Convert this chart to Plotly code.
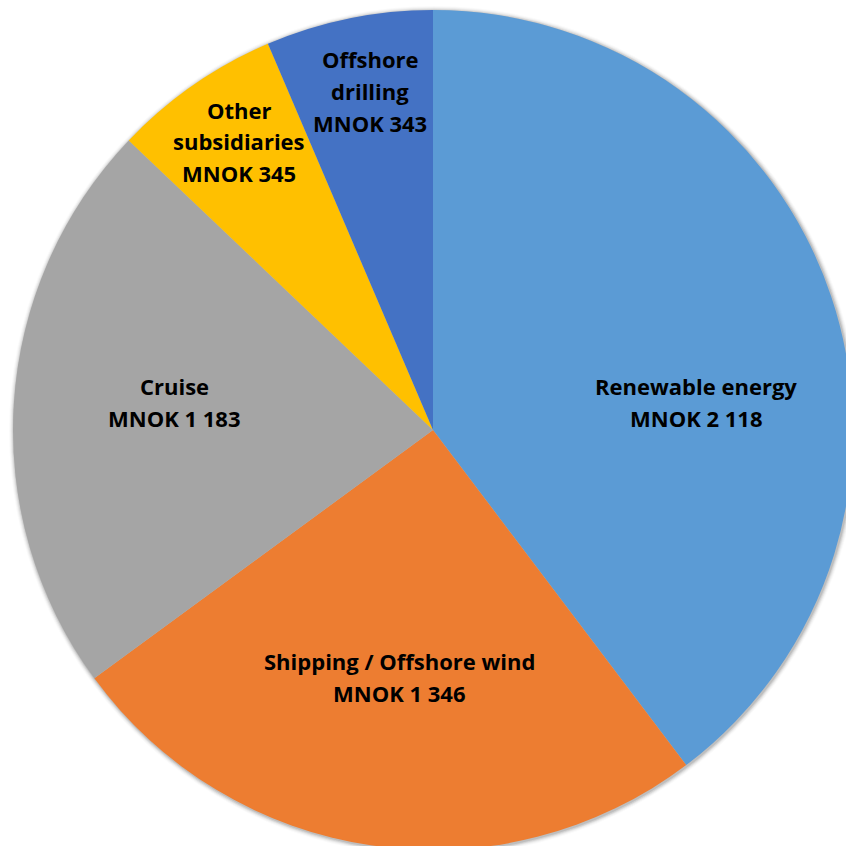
import plotly.graph_objects as go

# Segment revenue (MNOK)
segments = ["Renewable energy", "Shipping / Offshore wind", "Cruise",
            "Other subsidiaries", "Offshore drilling"]
values = [2118, 1346, 1183, 345, 343]
colors = ["#5B9BD5", "#ED7D31", "#A5A5A5", "#FFC000", "#4472C4"]

# label lines: segment name split for display, then the value line
name_lines = [["Renewable energy"], ["Shipping / Offshore wind"], ["Cruise"],
              ["Other", "subsidiaries"], ["Offshore", "drilling"]]


def fmt_mnok(v):
    s = f"{v:,}".replace(",", " ")
    return f"MNOK {s}"


W, H = 866, 860
CX, CY, R = 433, 430, 420

# label block centres in pixels
label_pos = [(696, 402), (399, 677), (174, 402), (239, 141), (370, 91)]
LINE = 31.5


def px(x):
    return x / W


def py(y):
    return 1 - y / H


fig = go.Figure(go.Pie(
    labels=segments,
    values=values,
    sort=False,
    direction="clockwise",
    rotation=0,
    marker=dict(colors=colors, line=dict(width=0)),
    textinfo="none",
    hoverinfo="label+value",
    domain=dict(x=[px(CX - R), px(CX + R)], y=[py(CY + R), py(CY - R)]),
    showlegend=False,
))

# soft shadow ring around the pie
shapes = []
for i, op in enumerate([0.10, 0.07, 0.05, 0.03, 0.02]):
    rr = R + 1 + i
    shapes.append(dict(type="circle", xref="paper", yref="paper", layer="below",
                       x0=px(CX - rr + 1), x1=px(CX + rr + 1),
                       y0=py(CY + rr + 1), y1=py(CY - rr + 1),
                       fillcolor=f"rgba(0,0,0,{op})", line=dict(width=0)))

annotations = []
for lines, v, (lx, ly) in zip(name_lines, values, label_pos):
    all_lines = lines + [fmt_mnok(v)]
    n = len(all_lines)
    for k, t in enumerate(all_lines):
        yk = ly + (k - (n - 1) / 2) * LINE
        annotations.append(dict(
            x=px(lx), y=py(yk), xref="paper", yref="paper",
            text=f"<b>{t}</b>", showarrow=False,
            xanchor="center", yanchor="middle",
            font=dict(family="Open Sans", size=22, color="#000000"),
        ))

fig.update_layout(
    width=W, height=H,
    margin=dict(l=0, r=0, t=0, b=0),
    paper_bgcolor="white",
    plot_bgcolor="white",
    shapes=shapes,
    annotations=annotations,
)

fig.write_html(
    "out.html",
    post_script="document.body.style.margin='0';document.body.style.overflow='hidden';"
                "document.documentElement.style.overflow='hidden';",
)
